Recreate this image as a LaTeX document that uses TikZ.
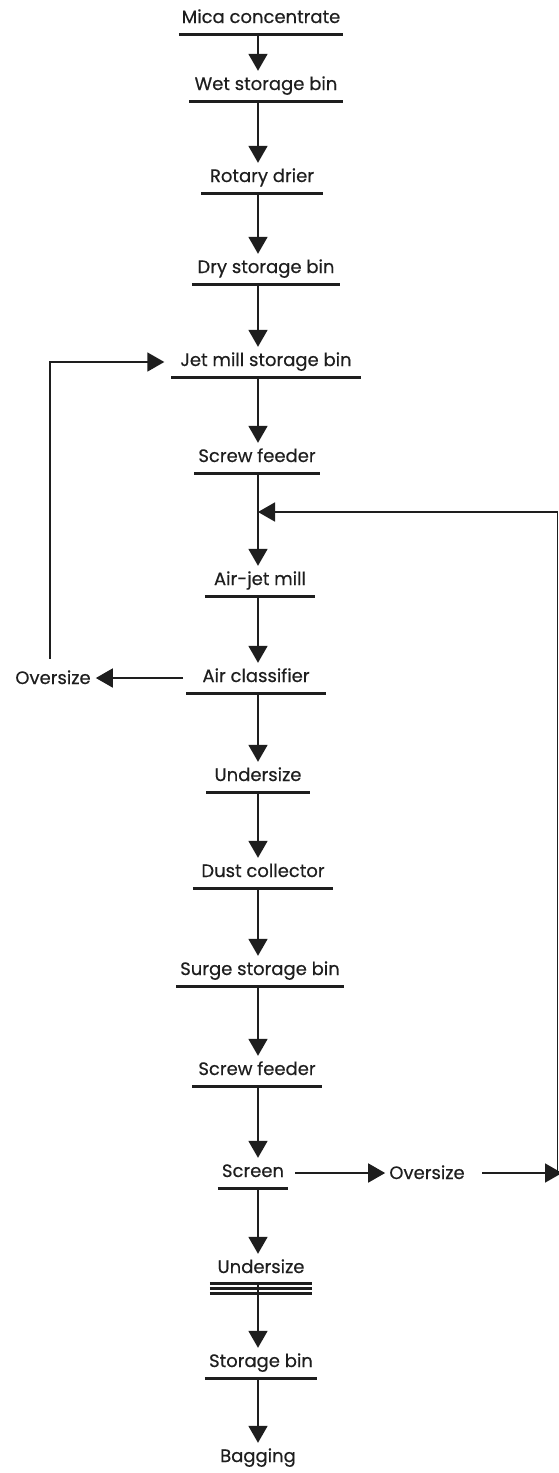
\documentclass[tikz,border=0pt]{standalone}
\usepackage{fontspec}
\setmainfont{Poppins}[FakeBold=0.4]
\usetikzlibrary{arrows.meta,calc}
\definecolor{ink}{HTML}{1E1E1E}
\tikzset{
  lbl/.style={font=\fontsize{18}{22}\selectfont, text=ink, inner xsep=0pt, inner ysep=0pt,
              text height=19pt, text depth=11pt},
  uline/.style={draw=ink, line width=2.6pt},
  proc/.style={lbl, minimum width=#1,
               append after command={(\tikzlastnode.south west) edge[uline] (\tikzlastnode.south east)}},
  flow/.style={draw=ink, line width=1.8pt, -{Triangle[width=19pt,length=17pt]}},
  plain/.style={draw=ink, line width=1.8pt},
}
\begin{document}
\begin{tikzpicture}[x=1pt,y=-1pt]
  \useasboundingbox[fill=white] (0,0) rectangle (558,1473);

  % axis of the main line and of the left return loop
  \coordinate (spine) at (258,0);
  \coordinate (lx) at (50,0);

  % process steps
  \node[proc=164pt] (mica) at (261,19)   {Mica concentrate};
  \node[proc=153pt] (wet)  at (266,86)   {Wet storage bin};
  \node[proc=121pt] (rot)  at (262,178)  {Rotary drier};
  \node[proc=148pt] (dry)  at (266,269)  {Dry storage bin};
  \node[proc=189pt] (jet)  at (266,362)  {Jet mill storage bin};
  \node[proc=125pt] (sf1)  at (257,458)  {Screw feeder};
  \node[proc=110pt] (ajm)  at (260,581)  {Air-jet mill};
  \node[proc=139pt] (acl)  at (256,678)  {Air classifier};
  \node[proc=103pt] (us1)  at (258,777)  {Undersize};
  \node[proc=140pt] (dc)   at (263,873)  {Dust collector};
  \node[proc=167pt] (ssb)  at (260,971)  {Surge storage bin};
  \node[proc=129pt] (sf2)  at (257,1071) {Screw feeder};
  \node[proc=70pt]  (scr)  at (253,1173) {Screen};
  \node[lbl, minimum width=102pt] (us2) at (261,1269) {Undersize};
  \node[proc=112pt] (sb)   at (261,1363) {Storage bin};
  \node[lbl] (bag) at (258,1458) {Bagging};
  \node[lbl] (ov1) at (53,680)   {Oversize};
  \node[lbl] (ov2) at (427,1175) {Oversize};

  % triple rule under the final undersize
  \foreach \d in {-1,4,9}
    \draw[uline] ($(us2.south west)+(0,\d)$) -- ($(us2.south east)+(0,\d)$);

  % main flow
  \foreach \a/\b in {mica/wet, wet/rot, rot/dry, dry/jet, jet/sf1, sf1/ajm, ajm/acl,
                     acl/us1, us1/dc, dc/ssb, ssb/sf2, sf2/scr, scr/us2, us2/sb, sb/bag}
    \draw[flow] (\a.south -| spine) -- (\b.north -| spine);

  % classifier oversize returned to the jet mill storage bin
  \coordinate (acin) at (183,678);
  \draw[flow, shorten >=5pt] (acin) -- (acin -| ov1.east);
  \draw[flow, shorten <=6pt, shorten >=7pt] (ov1.north -| lx) |- (jet.west);

  % screen oversize returned to the air-jet mill feed
  \coordinate (sout) at (295,1173);
  \coordinate (oout) at (482,1173);
  \coordinate (rtip) at (562,1173);
  \coordinate (rb)   at (557.5,1173);
  \coordinate (rt)   at (557.5,512);
  \draw[flow, shorten >=4pt] (sout) -- (sout -| ov2.west);
  \draw[flow] (oout) -- (rtip);
  \draw[plain] (rb) -- (rt);
  \draw[flow] (rt) -- (rt -| spine);
\end{tikzpicture}
\end{document}
